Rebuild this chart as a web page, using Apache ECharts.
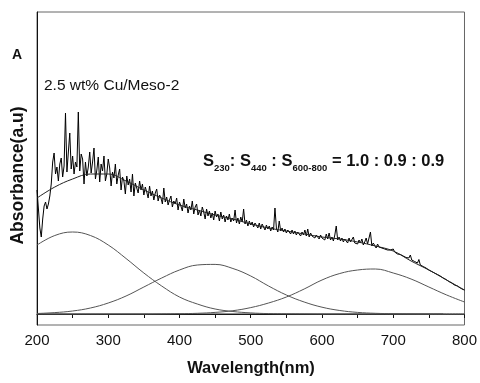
<!DOCTYPE html>
<html>
<head>
<meta charset="utf-8">
<script src="https://cdn.jsdelivr.net/npm/echarts@6/dist/echarts.min.js"></script>
<style>
  html, body { margin: 0; padding: 0; background: #fff; }
  #chart { width: 480px; height: 383px; }
</style>
</head>
<body>
<div id="chart"></div>
<script>
// Measured UV-Vis spectrum, sampled every 2 nm from 200 nm (ten points per row)
const spectrumStartNm = 200;
const spectrumStepNm = 2;
const spectrumAbs = [
  1.24, 1.05, 0.86, 0.77, 0.95, 1.08, 1.12, 1.05, 1.10, 1.18,   // 200-218
  1.30, 1.52, 1.61, 1.40, 1.47, 1.33, 1.50, 1.56, 1.37, 1.48,   // 220-238
  2.01, 1.42, 1.62, 1.81, 1.45, 1.58, 1.40, 1.52, 1.47, 2.02,   // 240-258
  1.43, 1.60, 1.55, 1.30, 1.52, 1.38, 1.47, 1.62, 1.41, 1.52,   // 260-278
  1.66, 1.35, 1.44, 1.57, 1.32, 1.50, 1.43, 1.58, 1.33, 1.40,   // 280-298
  1.55, 1.46, 1.28, 1.42, 1.36, 1.50, 1.30, 1.39, 1.45, 1.24,   // 300-318
  1.37, 1.33, 1.20, 1.38, 1.29, 1.35, 1.22, 1.40, 1.18, 1.31,   // 320-338
  1.26, 1.21, 1.33, 1.24, 1.30, 1.19, 1.27, 1.22, 1.16, 1.28,   // 340-358
  1.18, 1.23, 1.14, 1.21, 1.25, 1.13, 1.19, 1.16, 1.10, 1.26,   // 360-378
  1.12, 1.17, 1.09, 1.14, 1.18, 1.07, 1.13, 1.10, 1.16, 1.04,   // 380-398
  1.12, 1.08, 1.03, 1.15, 1.06, 1.10, 1.01, 1.08, 1.04, 1.13,   // 400-418
  1.00, 1.07, 1.10, 0.99, 1.04, 0.98, 1.07, 1.02, 0.95, 1.05,   // 420-438
  0.98, 1.03, 0.96, 1.01, 0.94, 1.03, 0.97, 1.00, 0.93, 1.02,   // 440-458
  0.95, 0.99, 0.92, 0.98, 0.94, 1.00, 0.92, 0.96, 0.93, 1.04,   // 460-478
  0.91, 0.96, 0.90, 0.97, 0.92, 1.05, 0.90, 0.94, 0.88, 0.93,   // 480-498
  0.89, 0.92, 0.87, 0.91, 0.89, 0.86, 0.91, 0.85, 0.90, 0.87,   // 500-518
  0.84, 0.89, 0.85, 0.88, 0.83, 0.87, 0.84, 1.06, 0.86, 0.82,   // 520-538
  0.93, 0.83, 0.86, 0.82, 0.85, 0.81, 0.84, 0.82, 0.80, 0.84,   // 540-558
  0.80, 0.83, 0.79, 0.82, 0.80, 0.78, 0.82, 0.79, 0.84, 0.78,   // 560-578
  0.85, 0.77, 0.81, 0.78, 0.80, 0.76, 0.79, 0.77, 0.75, 0.79,   // 580-598
  0.76, 0.78, 0.74, 0.80, 0.75, 0.81, 0.74, 0.77, 0.73, 0.79,   // 600-618
  0.88, 0.74, 0.77, 0.73, 0.76, 0.72, 0.75, 0.73, 0.71, 0.76,   // 620-638
  0.72, 0.74, 0.77, 0.71, 0.73, 0.70, 0.74, 0.71, 0.75, 0.69,   // 640-658
  0.72, 0.76, 0.70, 0.72, 0.82, 0.68, 0.71, 0.69, 0.66, 0.70,   // 660-678
  0.67, 0.69, 0.66, 0.68, 0.65, 0.67, 0.64, 0.66, 0.64, 0.62,   // 680-698
  0.65, 0.62, 0.635, 0.60, 0.615, 0.595, 0.605, 0.58, 0.595, 0.565,   // 700-718
  0.575, 0.56, 0.59, 0.54, 0.545, 0.525, 0.53, 0.51, 0.545, 0.49,     // 720-738
  0.50, 0.475, 0.48, 0.46, 0.455, 0.44, 0.445, 0.425, 0.43, 0.41,     // 740-758
  0.415, 0.395, 0.40, 0.38, 0.375, 0.36, 0.365, 0.345, 0.345, 0.325,  // 760-778
  0.33, 0.31, 0.31, 0.29, 0.295, 0.28, 0.275, 0.26, 0.26, 0.245,      // 780-798
  0.24                                                                // 800
];

// Fitted envelope and the three Gaussian bands, on a 25 nm grid
const fitNm = [200, 225, 250, 275, 300, 325, 350, 375, 400, 425, 450, 475, 500,
               525, 550, 575, 600, 625, 650, 675, 700, 725, 750, 775, 800];
const fitAbs = [1.16, 1.27, 1.35, 1.40, 1.40, 1.33, 1.24, 1.16, 1.09, 1.04, 0.99, 0.95, 0.90,
                0.86, 0.83, 0.80, 0.77, 0.75, 0.72, 0.68, 0.63, 0.53, 0.44, 0.34, 0.24];
const band230 = [0.69, 0.785, 0.82, 0.785, 0.69, 0.555, 0.41, 0.28, 0.17, 0.10, 0.05, 0.025, 0.011,
                 0.004, 0.002, 0.001, 0, 0, 0, 0, 0, 0, 0, 0, 0];
const band440 = [0.005, 0.014, 0.03, 0.06, 0.11, 0.18, 0.27, 0.36, 0.44, 0.49, 0.496, 0.455, 0.38,
                 0.28, 0.19, 0.12, 0.068, 0.035, 0.016, 0.007, 0.003, 0.001, 0, 0, 0];
const band600 = [0, 0, 0, 0, 0, 0, 0, 0.001, 0.003, 0.007, 0.016, 0.033, 0.064,
                 0.11, 0.17, 0.25, 0.34, 0.405, 0.44, 0.45, 0.41, 0.35, 0.27, 0.19, 0.12];

// Zero line of the deconvolution
const baselineNm = [200, 770];
const baselineAbs = [0, 0];

// Axis ticks
const xTicks = [200, 300, 400, 500, 600, 700, 800];

const FONT = '"Liberation Sans", Arial, Helvetica, sans-serif';

const pairs = (xs, ys) => xs.map((x, i) => [x, ys[i]]);
const spectrum = spectrumAbs.map((v, i) => [spectrumStartNm + i * spectrumStepNm, v]);

const chart = echarts.init(document.getElementById('chart'), null, { renderer: 'canvas' });

const thinLine = (name, data, color, width, smooth) => ({
  name, type: 'line', data, showSymbol: false, symbol: 'none', smooth,
  lineStyle: { color, width }, z: 2, animation: false
});

chart.setOption({
  backgroundColor: '#ffffff',
  animation: false,
  grid: { left: 37, right: 14, top: 12, bottom: 58, show: true, borderColor: '#666', borderWidth: 1 },
  xAxis: {
    type: 'value', min: 200, max: 800, interval: 50,
    axisLine: { show: true, lineStyle: { color: '#111', width: 1 } },
    axisTick: { show: true, inside: false, length: 4, lineStyle: { color: '#111' } },
    axisLabel: {
      margin: 8, color: '#111', fontSize: 15, fontFamily: FONT,
      formatter: v => (xTicks.indexOf(v) >= 0 ? String(v) : '')
    },
    splitLine: { show: false }
  },
  yAxis: {
    type: 'value', min: -0.11, max: 3.02,
    axisLine: { show: true, lineStyle: { color: '#111', width: 1 } },
    axisTick: { show: false },
    axisLabel: { show: false },
    splitLine: { show: false }
  },
  series: [
    thinLine('baseline', pairs(baselineNm, baselineAbs), '#222', 1.2, false),
    thinLine('band 230', pairs(fitNm, band230), '#555', 1, 0.4),
    thinLine('band 440', pairs(fitNm, band440), '#555', 1, 0.4),
    thinLine('band 600-800', pairs(fitNm, band600), '#555', 1, 0.4),
    thinLine('spectrum', spectrum, '#000', 1, false),
    thinLine('fit', pairs(fitNm, fitAbs), '#222', 1, 0.4)
  ],
  graphic: [
    {
      type: 'text', left: 12, top: 48,
      style: { text: 'A', fontSize: 14, fontWeight: 'bold', fontFamily: FONT, fill: '#111' }
    },
    {
      type: 'text', left: 44, top: 78,
      style: { text: '2.5 wt% Cu/Meso-2', fontSize: 15.5, fontFamily: FONT, fill: '#111' }
    },
    {
      type: 'text', left: 203, top: 153,
      style: {
        text: '{s|S}{b|230}{s|: S}{b|440}{s| : S}{b|600-800}{s| = 1.0 : 0.9 : 0.9}',
        fill: '#111',
        rich: {
          s: { fontSize: 16.5, fontWeight: 'bold', fontFamily: FONT, fill: '#111',
               lineHeight: 17, verticalAlign: 'bottom', padding: [0, 0, 3, 0] },
          b: { fontSize: 9.5, fontWeight: 'bold', fontFamily: FONT, fill: '#111',
               lineHeight: 10, verticalAlign: 'bottom' }
        }
      }
    },
    {
      type: 'text', x: 18, y: 175.5, rotation: Math.PI / 2,
      style: { text: 'Absorbance(a.u)', fontSize: 17.5, fontWeight: 'bold', fontFamily: FONT,
               fill: '#111', align: 'center', verticalAlign: 'middle' }
    },
    {
      type: 'text', x: 251, y: 368,
      style: { text: 'Wavelength(nm)', fontSize: 16.5, fontWeight: 'bold', fontFamily: FONT,
               fill: '#111', align: 'center', verticalAlign: 'middle' }
    }
  ]
});
</script>
</body>
</html>
